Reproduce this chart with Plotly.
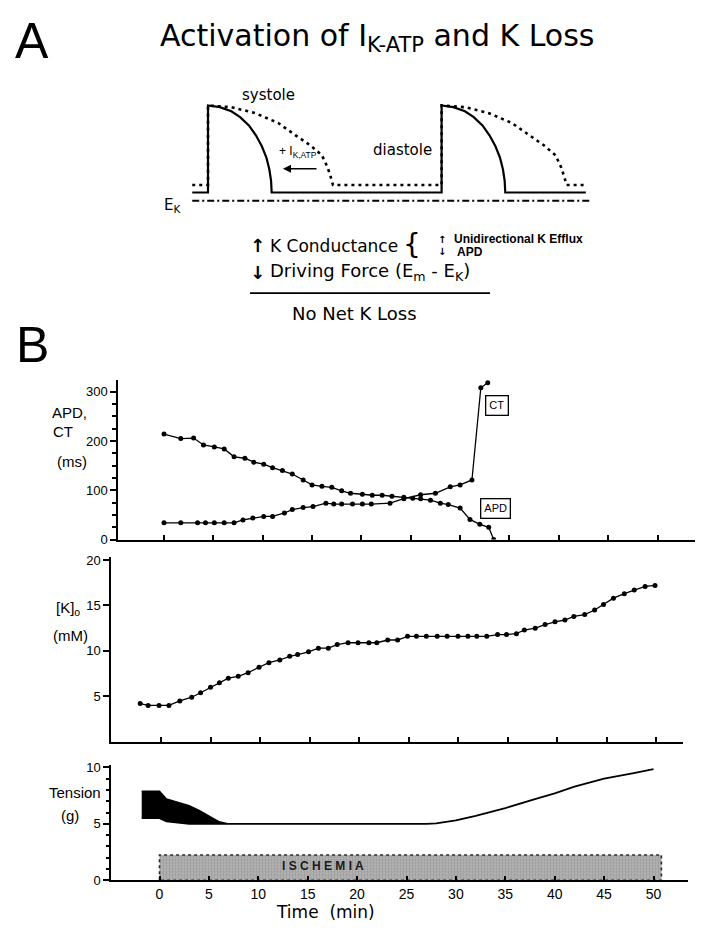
import plotly.graph_objects as go

W, H = 712, 940
PAGE_OFFSET = 8  # browser body margin around the plot div
FONT = "Liberation Sans, Arial, sans-serif"
WIDE = "DejaVu Sans, Verdana, sans-serif"

# ---- panel A schematic (ms, mV) ----
BEAT_ONSETS = [0, 400]
SWEEP_START, SWEEP_END = -27, 657
EK_MV = -95
REST_CONTROL = -85
REST_KATP = -76
AP_CONTROL_T = [0, 20, 40, 55, 70, 82, 92, 100, 105, 108, 109]
AP_CONTROL_V = [20, 18, 13, 6, -4, -16, -29, -43, -57, -71, -85]
AP_KATP_T = [0, 40, 80, 120, 150, 175, 195, 205, 210, 214]
AP_KATP_V = [20, 18, 11, -1, -16, -28, -40, -55, -66, -76]

# ---- panel B data (time in min) ----
APD_T = [0, 1.7, 3.0, 4.0, 5.1, 6.1, 7.1, 8.2, 9.1, 10.1, 11.0, 12.0, 13.0, 14.1,
         15.0, 16.0, 17.0, 18.0, 18.9, 20.1, 21.1, 22.1, 23.1, 24.3, 25.2, 26.0,
         27.0, 28.0, 28.8, 30.0, 31.0, 32.0, 32.9, 33.4]
APD_MS = [214, 205, 206, 192, 188, 184, 168, 165, 157, 153, 146, 140, 133, 121,
          111, 108, 106, 99, 94, 92, 90, 90, 88, 86, 84, 83,
          80, 74, 71, 64, 41, 31, 25, 0]
CT_T = [0, 1.7, 3.4, 4.2, 5.1, 6.1, 7.1, 8.0, 9.0, 10.1, 11.0, 12.2, 13.0, 14.1,
        15.1, 16.4, 17.2, 18.0, 19.1, 20.1, 21.0, 22.9, 24.3, 26.0, 27.5, 29.0,
        30.0, 31.2, 32.1, 32.8]
CT_MS = [34, 34, 34, 34, 34, 34, 34, 40, 44, 47, 47, 54, 61, 65,
         67, 74, 72, 72, 72, 72, 72, 74, 83, 91, 94, 107,
         111, 121, 308, 318]

K_T = [-2.1, -1.3, -0.2, 0.8, 1.9, 3.1, 4.0, 5.0, 5.9, 6.8, 7.8, 8.8, 9.9, 10.9,
       12.0, 13.0, 13.8, 14.9, 15.9, 16.9, 17.8, 18.9, 19.9, 21.0, 21.8, 22.9,
       23.9, 24.9, 25.8, 26.8, 27.9, 28.9, 30.0, 31.0, 31.9, 32.9, 34.0, 34.9,
       35.9, 36.7, 37.8, 38.8, 39.8, 40.8, 41.7, 42.8, 43.8, 44.7, 45.7, 46.8,
       47.8, 48.9, 49.9]
K_MM = [4.2, 4.0, 4.0, 4.0, 4.5, 4.9, 5.4, 6.0, 6.5, 7.0, 7.2, 7.6, 8.2, 8.7,
        9.0, 9.4, 9.6, 9.9, 10.3, 10.3, 10.7, 10.9, 10.9, 10.9, 10.9, 11.2,
        11.2, 11.6, 11.6, 11.6, 11.6, 11.6, 11.6, 11.6, 11.6, 11.6, 11.8, 11.8,
        11.9, 12.3, 12.5, 12.9, 13.2, 13.4, 13.8, 14.0, 14.5, 15.1, 15.8, 16.3,
        16.7, 17.1, 17.2]

BAND_T = [-1.8, 0, 0.7, 2, 3, 4, 5, 6, 7]
BAND_HIGH = [7.9, 7.9, 7.2, 6.9, 6.6, 6.2, 5.7, 5.2, 5.0]
BAND_LOW = [5.5, 5.5, 5.2, 5.05, 5.0, 5.0, 5.0, 5.0, 5.0]
TENSION_T = [7, 10, 15, 20, 25, 27, 28, 30, 32, 35, 38, 40, 42, 45, 48, 50]
TENSION_G = [5.0, 5.0, 5.0, 5.0, 4.95, 5.0, 5.05, 5.3, 5.7, 6.4, 7.2, 7.7, 8.3, 9.0, 9.5, 9.85]
ISCHEMIA_START, ISCHEMIA_END, ISCHEMIA_BAR = 0, 50.8, 2.25

TIME_TICKS = [0, 5, 10, 15, 20, 25, 30, 35, 40, 45, 50]


def fx(px):
    return (px - PAGE_OFFSET) / W


def fy(px):
    return 1 - (px - PAGE_OFFSET) / H


def beat_trace(shape_t, shape_v, rest):
    xs, ys = [SWEEP_START], [rest]
    for onset in BEAT_ONSETS:
        xs += [onset] + [onset + t for t in shape_t]
        ys += [rest] + list(shape_v)
    xs.append(SWEEP_END - 10)
    ys.append(rest)
    return xs, ys


fig = go.Figure()

# schematic
kx, ky = beat_trace(AP_KATP_T, AP_KATP_V, REST_KATP)
fig.add_trace(go.Scatter(x=kx, y=ky, mode="lines", xaxis="x4", yaxis="y4",
                         line=dict(color="black", width=2.6, dash="3px,4px")))
cx, cy = beat_trace(AP_CONTROL_T, AP_CONTROL_V, REST_CONTROL)
fig.add_trace(go.Scatter(x=cx, y=cy, mode="lines", xaxis="x4", yaxis="y4",
                         line=dict(color="black", width=2.2)))
fig.add_trace(go.Scatter(x=[SWEEP_START, SWEEP_END], y=[EK_MV, EK_MV], mode="lines",
                         xaxis="x4", yaxis="y4",
                         line=dict(color="black", width=1.8, dash="7px,3px,2px,3px")))

# APD / CT
mk = dict(color="black", size=5)
fig.add_trace(go.Scatter(x=APD_T, y=APD_MS, mode="lines+markers", xaxis="x", yaxis="y",
                         line=dict(color="black", width=1.3), marker=mk))
fig.add_trace(go.Scatter(x=CT_T, y=CT_MS, mode="lines+markers", xaxis="x", yaxis="y",
                         line=dict(color="black", width=1.3), marker=mk))

# [K]o
fig.add_trace(go.Scatter(x=K_T, y=K_MM, mode="lines+markers", xaxis="x2", yaxis="y2",
                         line=dict(color="black", width=1.3), marker=mk))

# tension
fig.add_trace(go.Scatter(
    x=[ISCHEMIA_START, ISCHEMIA_START, ISCHEMIA_END, ISCHEMIA_END, ISCHEMIA_START],
    y=[0, ISCHEMIA_BAR, ISCHEMIA_BAR, 0, 0], mode="lines", fill="toself",
    xaxis="x3", yaxis="y3", fillcolor="#b0b0b0",
    fillpattern=dict(shape=".", bgcolor="#b4b4b4", fgcolor="#7a7a7a", size=3, solidity=0.4),
    line=dict(color="#2a2a2a", width=1.6, dash="dot")))
fig.add_trace(go.Scatter(x=BAND_T, y=BAND_LOW, mode="lines", xaxis="x3", yaxis="y3",
                         line=dict(color="black", width=1.5)))
fig.add_trace(go.Scatter(x=BAND_T, y=BAND_HIGH, mode="lines", xaxis="x3", yaxis="y3",
                         fill="tonexty", fillcolor="black",
                         line=dict(color="black", width=1.5)))
fig.add_trace(go.Scatter(x=TENSION_T, y=TENSION_G, mode="lines", xaxis="x3", yaxis="y3",
                         line=dict(color="black", width=1.8)))

xcommon = dict(showline=True, linecolor="black", linewidth=1.5, showgrid=False,
               zeroline=False, ticks="inside", ticklen=5, tickcolor="black",
               tickwidth=1.5, tickvals=TIME_TICKS)
ycommon = dict(showline=True, linecolor="black", linewidth=1.5, showgrid=False,
               zeroline=False, ticks="outside", ticklen=6, tickcolor="black",
               tickwidth=1.5, tickfont=dict(family=FONT, size=13, color="black"))


def xdom(left, right, t0, scale):
    return dict(domain=[fx(left), fx(right)],
                range=[(left - t0) / scale, (right - t0) / scale])


def ydom(top, zero, scale):
    return dict(domain=[fy(zero), fy(top)], range=[0, (zero - top) / scale])


layout = dict(
    width=W, height=H, autosize=False, showlegend=False,
    margin=dict(l=0, r=0, t=0, b=0),
    paper_bgcolor="white", plot_bgcolor="rgba(0,0,0,0)",
    font=dict(family=FONT, color="black"),
    xaxis=dict(**xcommon, **xdom(118, 695, 164, 9.87), anchor="y", showticklabels=False),
    yaxis=dict(**ycommon, **ydom(380, 542, 0.5), anchor="x",
               tickvals=[0, 100, 200, 300],
               minor=dict(ticks="outside", dtick=25, ticklen=4, tickcolor="black")),
    xaxis2=dict(**xcommon, **xdom(111, 683, 161, 9.9), anchor="y2", showticklabels=False),
    yaxis2=dict(**ycommon, **ydom(560, 747, 9.215), anchor="x2", tickvals=[5, 10, 15, 20]),
    xaxis3=dict(**xcommon, **xdom(111, 688, 159.5, 9.88), anchor="y3",
                tickfont=dict(family=FONT, size=14, color="black")),
    yaxis3=dict(**ycommon, **ydom(771, 887.5, 11.45), anchor="x3",
                tickvals=[0, 5, 10],
                minor=dict(ticks="outside", dtick=1, ticklen=3, tickcolor="black")),
    xaxis4=dict(domain=[0, 1], range=[(PAGE_OFFSET - 208) / 0.584,
                                      (W + PAGE_OFFSET - 208) / 0.584],
                visible=False, anchor="y4"),
    yaxis4=dict(domain=[fy(230), fy(60)], range=[-85 - 40 / 0.84, -85 + 130 / 0.84],
                visible=False, anchor="x4"),
)
fig.update_layout(**layout)


def note(text, x, y, size=14, xanchor="center", family=FONT, **kw):
    fig.add_annotation(text=text, x=fx(x), y=fy(y), xref="paper", yref="paper",
                       xanchor=xanchor, yanchor="middle", showarrow=False,
                       font=dict(family=family, size=size, color="black"), **kw)


note("A", 32, 36, size=50)
note("B", 32, 345, size=50)
note("Activation of I<sub>K-ATP</sub> and K Loss", 377, 33, size=30, family=WIDE)
note("systole", 268, 91, size=15, family=WIDE)
note("diastole", 402, 147, size=15, family=WIDE)
note("+ I<sub>K,ATP</sub>", 298, 149, size=12)
note("E<sub>K</sub>", 172, 203, size=15, family=WIDE)
fig.add_annotation(x=fx(283), y=fy(166), ax=35, ay=0, xref="paper",
                   yref="paper", axref="pixel", ayref="pixel", text="",
                   showarrow=True, arrowhead=2, arrowsize=1, arrowwidth=1.6,
                   arrowcolor="black")

note("<b>↑</b>", 257, 244, size=18, family=WIDE)
note("K Conductance", 268, 244, size=17, xanchor="left", family=WIDE)
note("{", 412, 243, size=28, family=WIDE)
note("<b>↑</b>", 442, 238, size=10, family=WIDE)
note("<b>↓</b>", 442, 250, size=10, family=WIDE)
note("<b>Unidirectional K Efflux</b>", 452, 237, size=12, xanchor="left")
note("<b>APD</b>", 455, 250, size=12, xanchor="left")
note("<b>↓</b>", 257, 271, size=18, family=WIDE)
note("Driving Force (E<sub>m</sub> - E<sub>K</sub>)", 268, 271, size=18,
     xanchor="left", family=WIDE)
fig.add_shape(type="line", xref="paper", yref="paper", x0=fx(250), x1=fx(490),
              y0=fy(292), y1=fy(292), line=dict(color="black", width=1.8))
note("No Net K Loss", 354, 313, size=18, family=WIDE)

note("APD,", 69, 413, size=15)
note("CT", 63, 432, size=15)
note("(ms)", 72, 463, size=15)
note("[K]<sub>o</sub>", 68, 612, size=15)
note("(mM)", 71, 639, size=15)
note("Tension", 75, 798, size=15)
note("(g)", 70, 822, size=15)
note("Time  (min)", 325, 920, size=17, family=WIDE)

fig.add_annotation(text="CT", x=33.7, y=272, xref="x", yref="y", showarrow=False,
                   font=dict(family=FONT, size=11, color="black"),
                   bordercolor="black", borderwidth=1.3, borderpad=3, bgcolor="white")
fig.add_annotation(text="APD", x=33.6, y=63, xref="x", yref="y", showarrow=False,
                   font=dict(family=FONT, size=11, color="black"),
                   bordercolor="black", borderwidth=1.3, borderpad=3, bgcolor="white")
fig.add_annotation(text="<b>I S C H E M I A</b>", x=16.5, y=1.3, xref="x3", yref="y3",
                   showarrow=False, font=dict(family=FONT, size=12, color="#1a1a1a"))

fig.write_html("out.html")
